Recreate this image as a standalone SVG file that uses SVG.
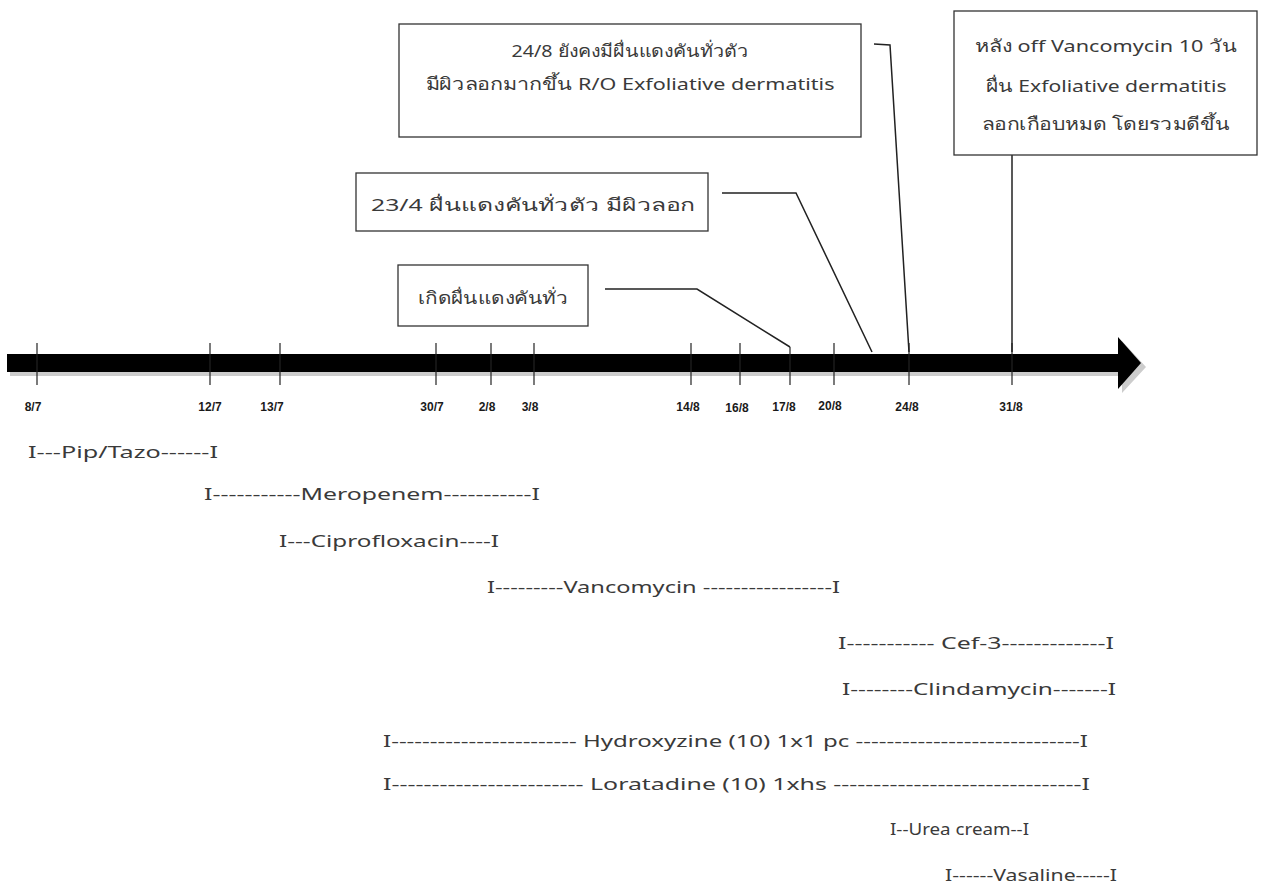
<svg xmlns="http://www.w3.org/2000/svg" width="1262" height="888" viewBox="0 0 1262 888">
<style>
.box{fill:#fff;stroke:#333;stroke-width:1.3}
.bt{font-family:Tahoma,"Noto Sans","Open Sans","DejaVu Sans",sans-serif;font-size:17px;fill:#3a3a3a;text-anchor:middle}
.dl{font-family:Tahoma,"Noto Sans","Open Sans","DejaVu Sans",sans-serif;font-size:17px;fill:#3a3a3a}
.tl{font-family:"Liberation Sans",Arial,sans-serif;font-size:12px;font-weight:bold;fill:#1a1a1a;text-anchor:middle}
.tk{stroke:#222;stroke-width:1.2}
.cn{fill:none;stroke:#222;stroke-width:1.5}
</style>
<rect width="1262" height="888" fill="#fff"/>
<g id="timeline">
<path d="M10 358 H1122 V341 L1146 367 L1122 393 V376 H10 Z" fill="#999" opacity="0.5"/>
<path d="M7 354 H1118 V337 L1141 363 L1118 389 V372 H7 Z" fill="#000"/>
<g class="tk">
<line x1="37" y1="343" x2="37" y2="385"/>
<line x1="210" y1="343" x2="210" y2="385"/>
<line x1="280" y1="343" x2="280" y2="385"/>
<line x1="436" y1="343" x2="436" y2="385"/>
<line x1="491" y1="343" x2="491" y2="385"/>
<line x1="534" y1="343" x2="534" y2="385"/>
<line x1="691" y1="343" x2="691" y2="385"/>
<line x1="740" y1="343" x2="740" y2="385"/>
<line x1="790" y1="347" x2="790" y2="385"/>
<line x1="834" y1="343" x2="834" y2="385"/>
<line x1="909" y1="343" x2="909" y2="385"/>
<line x1="1012" y1="343" x2="1012" y2="385"/>
</g>
<text class="tl" x="33" y="411">8/7</text>
<text class="tl" x="210" y="411">12/7</text>
<text class="tl" x="272" y="411">13/7</text>
<text class="tl" x="432" y="411">30/7</text>
<text class="tl" x="487" y="411">2/8</text>
<text class="tl" x="530" y="411">3/8</text>
<text class="tl" x="688" y="411">14/8</text>
<text class="tl" x="737" y="412">16/8</text>
<text class="tl" x="784" y="411">17/8</text>
<text class="tl" x="830" y="410">20/8</text>
<text class="tl" x="907" y="411">24/8</text>
<text class="tl" x="1011" y="411">31/8</text>
</g>
<g id="connectors">
<polyline class="cn" points="874,44 890,45 909,352"/>
<polyline class="cn" points="1012,155 1012,352"/>
<polyline class="cn" points="722,193 796,193 872,352"/>
<polyline class="cn" points="605,289 697,289 790,347"/>
</g>
<g id="note-24-8">
<rect class="box" x="399" y="24" width="462" height="113"/>
<text class="bt" x="630" y="57" textLength="237" lengthAdjust="spacingAndGlyphs">24/8 ยังคงมีผื่นแดงคันทั่วตัว</text>
<text class="bt" x="630" y="90" textLength="409" lengthAdjust="spacingAndGlyphs">มีผิวลอกมากขึ้น  R/O Exfoliative dermatitis</text>
</g>
<g id="note-off-vanco">
<rect class="box" x="954" y="11" width="303" height="144"/>
<text class="bt" x="1106" y="52" textLength="262" lengthAdjust="spacingAndGlyphs">หลัง off Vancomycin 10 วัน</text>
<text class="bt" x="1106" y="92" textLength="241" lengthAdjust="spacingAndGlyphs">ผื่น Exfoliative dermatitis</text>
<text class="bt" x="1106" y="130" textLength="248" lengthAdjust="spacingAndGlyphs">ลอกเกือบหมด  โดยรวมดีขึ้น</text>
</g>
<g id="note-23-4">
<rect class="box" x="356" y="173" width="352" height="58"/>
<text class="bt" x="533" y="211" textLength="324" lengthAdjust="spacingAndGlyphs">23/4  ผื่นแดงคันทั่วตัว  มีผิวลอก</text>
</g>
<g id="note-onset">
<rect class="box" x="398" y="265" width="190" height="61"/>
<text class="bt" x="493" y="304" textLength="150" lengthAdjust="spacingAndGlyphs">เกิดผื่นแดงคันทั่ว</text>
</g>
<g id="drugs">
<text class="dl" x="28" y="458" textLength="190" lengthAdjust="spacingAndGlyphs">I---Pip/Tazo------I</text>
<text class="dl" x="204" y="500" textLength="336" lengthAdjust="spacingAndGlyphs">I-----------Meropenem-----------I</text>
<text class="dl" x="279" y="547" textLength="220" lengthAdjust="spacingAndGlyphs">I---Ciprofloxacin----I</text>
<text class="dl" x="487" y="593" textLength="353" lengthAdjust="spacingAndGlyphs">I---------Vancomycin -----------------I</text>
<text class="dl" x="838" y="649" textLength="276" lengthAdjust="spacingAndGlyphs">I----------- Cef-3-------------I</text>
<text class="dl" x="842" y="695" textLength="274" lengthAdjust="spacingAndGlyphs">I--------Clindamycin-------I</text>
<text class="dl" x="383" y="747" textLength="705" lengthAdjust="spacingAndGlyphs">I------------------------ Hydroxyzine (10) 1x1 pc -----------------------------I</text>
<text class="dl" x="383" y="790" textLength="707" lengthAdjust="spacingAndGlyphs">I------------------------ Loratadine (10) 1xhs -------------------------------I</text>
<text class="dl" x="890" y="835" font-size="13" textLength="139" lengthAdjust="spacingAndGlyphs">I--Urea cream--I</text>
<text class="dl" x="945" y="881" font-size="14" textLength="172" lengthAdjust="spacingAndGlyphs">I------Vasaline-----I</text>
</g>
</svg>
